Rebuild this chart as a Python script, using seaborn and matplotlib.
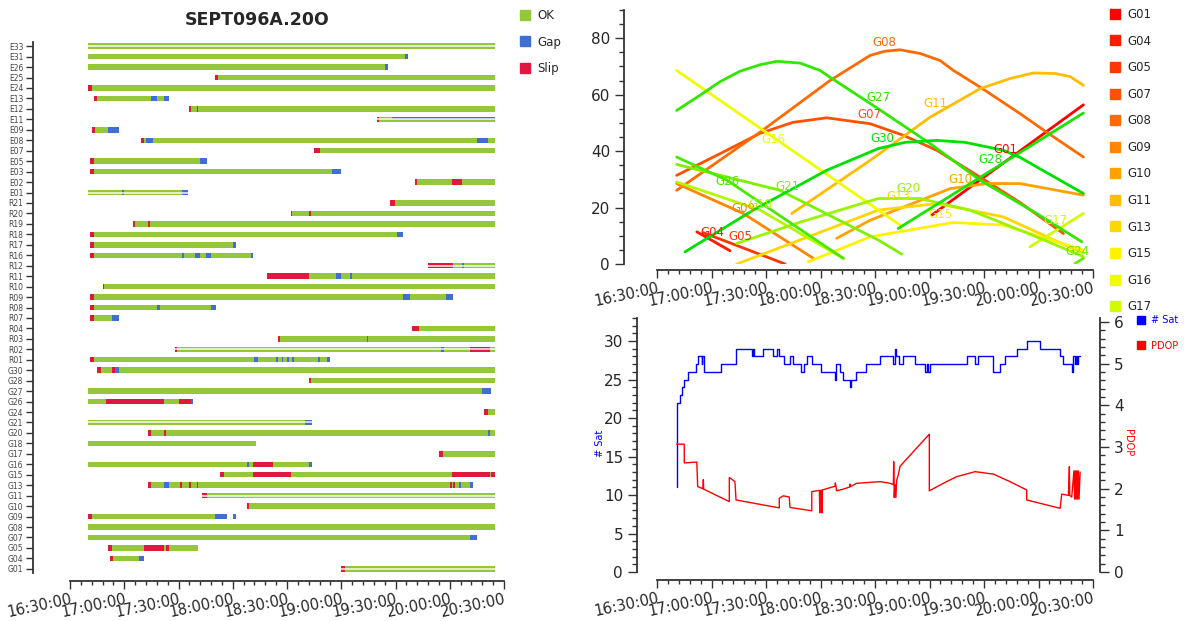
import colorsys
import numpy as np
import pandas as pd
import matplotlib
matplotlib.use("Agg")
import matplotlib.pyplot as plt
from matplotlib.lines import Line2D
from matplotlib.ticker import MultipleLocator, FixedLocator
import seaborn as sns

sns.set_style("ticks")
plt.rcParams['font.family'] = ['DejaVu Sans']

# ---------------- left panel: tracking status per satellite ----------------
sats = ["E33", "E31", "E26", "E25", "E24", "E13", "E12", "E11", "E09", "E08", "E07",
        "E05", "E03", "E02", "E01", "R21", "R20", "R19", "R18", "R17", "R16", "R12",
        "R11", "R10", "R09", "R08", "R07", "R04", "R03", "R02", "R01", "G30", "G28",
        "G27", "G26", "G24", "G21", "G20", "G18", "G17", "G16", "G15", "G13", "G11",
        "G10", "G09", "G08", "G07", "G05", "G04", "G01"]

ok_spans = [
    ("E33", "16:40", "20:25"), ("E31", "16:40", "19:37"), ("E26", "16:40", "19:26"),
    ("E25", "17:51", "20:25"), ("E24", "16:41", "20:25"), ("E13", "16:44", "17:25"),
    ("E12", "17:36", "20:25"), ("E11", "19:20", "20:25"), ("E09", "16:43", "16:57"),
    ("E08", "17:10", "20:25"), ("E07", "18:45", "20:25"), ("E05", "16:42", "17:46"),
    ("E03", "16:42", "19:00"), ("E02", "19:41", "20:25"), ("E01", "16:40", "17:35"),
    ("R21", "19:27", "20:25"), ("R20", "18:32", "20:25"), ("R19", "17:05", "20:25"),
    ("R18", "16:42", "19:34"), ("R17", "16:42", "18:02"), ("R16", "16:42", "18:11"),
    ("R12", "19:48", "20:25"), ("R11", "18:19", "20:25"), ("R10", "16:48", "20:25"),
    ("R09", "16:42", "20:02"), ("R08", "16:42", "17:51"), ("R07", "16:42", "16:57"),
    ("R04", "19:40", "20:25"), ("R03", "18:25", "20:25"), ("R02", "17:28", "20:25"),
    ("R01", "16:42", "18:53"), ("G30", "16:46", "20:25"), ("G28", "18:42", "20:25"),
    ("G27", "16:40", "20:23"), ("G26", "16:40", "17:38"), ("G24", "20:19", "20:25"),
    ("G21", "16:40", "18:44"), ("G20", "17:13", "20:25"), ("G18", "16:40", "18:13"),
    ("G17", "19:54", "20:25"), ("G16", "16:40", "18:44"), ("G15", "17:53", "20:25"),
    ("G13", "17:13", "20:13"), ("G11", "17:43", "20:25"), ("G10", "18:08", "20:25"),
    ("G09", "16:40", "17:57"), ("G08", "16:40", "20:25"), ("G07", "16:40", "20:15"),
    ("G05", "16:51", "17:41"), ("G04", "16:52", "17:11"), ("G01", "19:00", "20:25"),
]

gap_spans = [
    ("E31", "19:35", "19:37"), ("E26", "19:24", "19:26"), ("E13", "17:15", "17:18"),
    ("E13", "17:22", "17:25"), ("E09", "16:51", "16:57"), ("E08", "17:12", "17:16"),
    ("E08", "20:15", "20:21"), ("E05", "17:42", "17:46"), ("E03", "18:55", "19:00"),
    ("E01", "16:59", "17:00"), ("E01", "17:32", "17:35"), ("R18", "19:31", "19:34"),
    ("R17", "18:00", "18:02"), ("R16", "17:32", "17:33"), ("R16", "17:39", "17:42"),
    ("R16", "17:45", "17:48"), ("R16", "18:10", "18:11"), ("R12", "20:07", "20:08"),
    ("R11", "18:57", "19:00"), ("R11", "19:05", "19:06"), ("R09", "19:34", "19:38"),
    ("R09", "19:58", "20:02"), ("R08", "17:18", "17:20"), ("R08", "17:48", "17:51"),
    ("R07", "16:53", "16:57"), ("R03", "19:14", "19:15"), ("R02", "19:55", "19:57"),
    ("R01", "18:12", "18:14"), ("R01", "18:24", "18:25"), ("R01", "18:27", "18:28"),
    ("R01", "18:30", "18:31"), ("R01", "18:33", "18:34"), ("R01", "18:47", "18:48"),
    ("R01", "18:52", "18:54"), ("G30", "16:55", "16:57"), ("G27", "20:18", "20:23"),
    ("G26", "17:35", "17:38"), ("G21", "18:40", "18:44"), ("G20", "20:21", "20:22"),
    ("G16", "18:08", "18:09"), ("G16", "18:42", "18:44"), ("G13", "17:22", "17:25"),
    ("G13", "20:05", "20:06"), ("G13", "20:11", "20:13"), ("G09", "17:50", "17:57"),
    ("G09", "18:00", "18:02"), ("G07", "20:11", "20:15"), ("G04", "17:08", "17:11"),
]
upper_gap_spans = [("E11", "19:28", "20:25")]

slip_spans = [
    ("E25", "17:50", "17:52"), ("E24", "16:40", "16:42"), ("E13", "16:43", "16:45"),
    ("E12", "17:36", "17:37"), ("E12", "17:40", "17:41"), ("E11", "19:20", "19:21"),
    ("E09", "16:42", "16:44"), ("E08", "17:09", "17:11"), ("E07", "18:45", "18:48"),
    ("E05", "16:41", "16:43"), ("E03", "16:41", "16:43"), ("E02", "19:41", "19:42"),
    ("E02", "20:01", "20:07"), ("R21", "19:27", "19:30"), ("R20", "18:32", "18:33"),
    ("R20", "18:42", "18:43"), ("R19", "17:05", "17:06"), ("R19", "17:13", "17:14"),
    ("R18", "16:41", "16:43"), ("R17", "16:41", "16:43"), ("R16", "16:41", "16:43"),
    ("R12", "19:48", "20:02"), ("R11", "18:19", "18:42"), ("R10", "16:48", "16:49"),
    ("R09", "16:41", "16:43"), ("R08", "16:41", "16:43"), ("R07", "16:41", "16:43"),
    ("R04", "19:39", "19:43"), ("R03", "18:25", "18:26"), ("R02", "17:28", "17:29"),
    ("R02", "20:11", "20:22"), ("R01", "16:41", "16:43"), ("G30", "16:45", "16:47"),
    ("G30", "16:53", "16:55"), ("G28", "18:42", "18:43"), ("G26", "16:50", "17:22"),
    ("G26", "17:30", "17:37"), ("G24", "20:19", "20:21"), ("G20", "17:13", "17:15"),
    ("G20", "17:22", "17:23"), ("G17", "19:54", "19:56"), ("G16", "18:11", "18:22"),
    ("G15", "17:53", "17:55"), ("G15", "18:11", "18:32"), ("G15", "20:01", "20:22"),
    ("G15", "20:23", "20:25"), ("G13", "17:13", "17:15"), ("G13", "17:31", "17:32"),
    ("G13", "17:36", "17:37"), ("G13", "17:40", "17:41"), ("G13", "20:00", "20:01"),
    ("G13", "20:02", "20:03"), ("G11", "17:43", "17:46"), ("G10", "18:08", "18:09"),
    ("G09", "16:40", "16:42"), ("G05", "16:51", "16:53"), ("G05", "17:11", "17:22"),
    ("G05", "17:23", "17:25"), ("G04", "16:52", "16:54"), ("G01", "19:00", "19:02"),
]
double_rows = ["E33", "E11", "E01", "R12", "R02", "G21", "G11", "G01"]

# ---------------- top right: elevation (minutes after 16:30, degrees) ----------------
gps = ["G01", "G04", "G05", "G07", "G08", "G09", "G10", "G11", "G13", "G15",
       "G16", "G17", "G18", "G20", "G21", "G24", "G26", "G27", "G28", "G30"]
elev_tracks = {
    "G01": [(151.2, 17.3), (234.7, 56.4)],
    "G04": [(21.9, 11.4), (40.2, 4.7)],
    "G05": [(25.5, 11.1), (70.5, 0.0)],
    "G07": [(10.8, 31.4), (32.9, 38.5), (56.7, 46.3), (74.9, 50.2), (93.4, 51.8),
            (117.3, 49.7), (135.6, 45.6), (154.0, 40.3), (177.8, 30.8), (199.8, 21.8),
            (223.7, 10.8)],
    "G08": [(10.8, 26.1), (56.7, 46.7), (95.2, 65.0), (117.3, 73.9), (125.5, 75.4),
            (133.8, 75.9), (144.8, 74.6), (155.8, 72.1), (163.1, 68.6), (177.8, 62.7),
            (199.8, 53.3), (214.5, 46.7), (234.7, 37.9)],
    "G09": [(10.8, 28.5), (47.5, 17.9), (86.1, 2.0)],
    "G10": [(98.9, 9.1), (117.3, 15.5), (161.3, 26.7), (181.5, 28.5), (199.8, 28.5),
            (234.7, 24.4)],
    "G11": [(74.2, 17.9), (117.3, 36.7), (150.3, 52.0), (177.8, 62.1), (194.3, 65.7),
            (207.2, 67.7), (219.1, 67.5), (227.4, 66.4), (234.7, 63.3)],
    "G13": [(43.9, 0.0), (78.7, 8.5), (121.8, 19.1), (154.0, 21.4), (190.6, 16.7),
            (234.7, 3.8)],
    "G15": [(83.3, 0.8), (117.3, 9.6), (163.1, 14.7), (190.6, 13.8), (234.7, 4.9)],
    "G16": [(10.8, 68.6), (133.8, 13.8)],
    "G17": [(205.3, 6.1), (234.7, 17.9)],
    "G18": [(10.8, 29.1), (56.7, 19.1), (102.6, 2.0)],
    "G20": [(43.9, 7.3), (78.7, 14.8), (121.8, 23.2), (144.8, 23.2), (172.3, 19.1),
            (209.0, 9.6), (234.7, 2.6)],
    "G21": [(10.8, 35.3), (67.7, 26.1), (121.8, 8.5), (134.7, 3.5)],
    "G24": [(230.1, 0.2), (234.7, 2.0)],
    "G26": [(10.8, 37.9), (38.5, 29.7), (102.6, 2.0)],
    "G27": [(10.8, 54.4), (23.7, 59.8), (34.7, 64.6), (45.7, 68.3), (56.7, 70.6),
            (65.9, 71.8), (78.7, 71.2), (89.7, 68.6), (95.2, 66.2), (121.8, 55.0),
            (150.3, 42.7), (177.8, 29.7), (209.0, 17.9), (233.8, 7.9)],
    "G28": [(132.8, 12.6), (234.7, 53.5)],
    "G30": [(15.4, 4.3), (53.0, 19.1), (93.4, 33.2), (121.8, 40.9), (136.5, 43.1),
            (154.0, 43.8), (169.6, 43.1), (190.6, 40.3), (199.8, 37.8), (209.0, 34.4),
            (234.7, 25.0)],
}
elev_labels = [("G08", 125, 78.4), ("G27", 121.7, 59.0), ("G07", 116.7, 53.0),
               ("G11", 153, 56.9), ("G30", 123.9, 44.5), ("G16", 63.9, 44.2),
               ("G01", 191.6, 40.6), ("G28", 183.3, 37.1), ("G26", 38.5, 29.3),
               ("G21", 71.6, 27.6), ("G10", 166.8, 30.0), ("G20", 138.2, 26.9),
               ("G13", 132.7, 24.0), ("G09", 47.3, 19.8), ("G18", 56.7, 21.2),
               ("G15", 155.8, 17.7), ("G17", 219.1, 15.5), ("G04", 30.3, 11.3),
               ("G05", 45.7, 9.9), ("G24", 231.2, 4.6)]

# ---------------- bottom right: number of satellites and PDOP ----------------
sat_t = [10.8, 11.2, 12.7, 13.9, 15.0, 17.2, 21.5, 22.4, 24.5, 25.0, 26.0, 35.2, 43.5,
         52.1, 52.8, 53.5, 58.2, 64.0, 66.0, 67.3, 70.1, 73.2, 75.0, 79.1, 80.9, 82.7,
         85.5, 90.1, 98.0, 98.5, 100.7, 102.2, 106.2, 106.6, 109.4, 115.1, 122.8, 130.1,
         130.8, 131.6, 133.4, 135.6, 142.0, 147.5, 148.5, 149.3, 150.3, 170.5, 175.1,
         176.9, 185.2, 188.8, 191.6, 198.0, 203.5, 210.8, 221.9, 223.7, 228.5, 229.0,
         229.2, 230.0, 230.6, 231.3, 232.0, 232.9]
sat_n = [11, 22, 23, 24, 25, 26, 27, 28, 27, 28, 26, 27, 29,
         28, 29, 28, 29, 28, 29, 28, 27, 28, 27, 26, 27, 28,
         27, 26, 25, 27, 26, 25, 24, 25, 26, 27, 28, 27,
         29, 28, 27, 28, 27, 26, 27, 26, 27, 28, 27,
         28, 26, 27, 28, 29, 30, 29, 28, 27, 26, 27,
         28, 27, 28, 27, 28, 28]

pdop_t = [10.8, 15.0, 15.0, 21.9, 22.4, 25.3, 25.5, 25.7, 39.8, 39.8, 42.9, 43.5, 67.3,
          67.3, 69.5, 72.8, 73.2, 85.2, 85.2, 89.4, 89.6, 89.8, 90.6, 90.8, 91.0, 98.0,
          98.2, 98.9, 101.7, 106.0, 106.2, 106.5, 109.9, 122.8, 128.3, 130.1, 130.3,
          130.6, 131.0, 131.5, 131.9, 132.8, 133.8, 149.9, 149.9, 157.6, 165.0, 175.1,
          185.2, 194.3, 203.5, 203.5, 221.9, 222.8, 226.5, 227.0, 227.2, 228.3, 229.5,
          229.9, 230.3, 230.7, 231.1, 231.5, 231.9, 232.3, 232.9]
pdop_v = [3.07, 3.07, 2.62, 2.64, 2.05, 2.00, 2.22, 1.99, 1.69, 2.27, 2.17, 1.73, 1.54,
          1.77, 1.83, 1.80, 1.55, 1.47, 1.93, 1.96, 1.42, 1.96, 1.96, 1.42, 1.97, 2.06,
          2.14, 1.95, 1.98, 2.04, 2.11, 2.05, 2.13, 2.17, 2.13, 2.10, 2.65,
          1.79, 2.10, 1.79, 2.20, 2.33, 2.54, 3.31, 1.95, 2.13, 2.29, 2.41,
          2.35, 2.17, 1.97, 1.73, 1.53, 1.87, 1.84, 2.53, 1.84, 1.80, 2.43,
          1.75, 2.43, 1.75, 2.43, 1.75, 2.43, 1.75, 2.40]

C_OK, C_GAP, C_SLIP = "#94c83a", "#3e6fd1", "#e0173f"
AX_COL = "#333333"


def hrs(s):
    h, m = s.split(":")
    return int(h) + int(m) / 60


def from_start(minutes):
    return 16.5 + np.asarray(minutes, dtype=float) / 60


tick_pos = np.arange(16.5, 20.51, 0.5)
tick_lab = ["%02d:%02d:00" % (int(t), round((t % 1) * 60)) for t in tick_pos]
minor_pos = [t for t in np.arange(16.5, 20.501, 0.1) if abs((t * 2) - round(t * 2)) > 1e-6]


def time_axis(ax, offset_pt, fs):
    ax.spines['bottom'].set_bounds(16.5, 20.5)
    ax.spines['bottom'].set_position(('outward', offset_pt))
    ax.set_xticks(tick_pos)
    ax.set_xticklabels(tick_lab, rotation=12, ha='right', rotation_mode='anchor', fontsize=fs)
    ax.xaxis.set_minor_locator(FixedLocator(minor_pos))
    ax.tick_params(axis='x', which='major', length=5.5, width=1, color=AX_COL, pad=2)
    ax.tick_params(axis='x', which='minor', length=3, width=1, color=AX_COL)
    for s in ax.spines.values():
        s.set_color(AX_COL)
        s.set_linewidth(1.3)


def sat_colour(i, n):
    hue = i / (n - 1) / 3.0
    val = 1.0 - 0.12 * max(0.0, (hue * 360 - 60) / 60)
    return colorsys.hsv_to_rgb(hue, 1.0, val)


fig = plt.figure(figsize=(11.84, 6.21), dpi=100)

# ---------------- left panel ----------------
axL = fig.add_axes([33 / 1184, 1 - 573 / 621, 471 / 1184, 531 / 621])
ypos = {s: len(sats) - 1 - i for i, s in enumerate(sats)}
bh = 0.52


def draw_spans(spans, color, dy=0.0, h=bh):
    y = [ypos[s] + dy for s, a, b in spans]
    left = [hrs(a) for s, a, b in spans]
    w = [hrs(b) - hrs(a) for s, a, b in spans]
    axL.barh(y, w, left=left, height=h, color=color, linewidth=0)


draw_spans(ok_spans, C_OK)
draw_spans(gap_spans, C_GAP)
draw_spans(slip_spans, C_SLIP)
draw_spans(upper_gap_spans, C_GAP, dy=0.14, h=0.24)
for s, a, b in ok_spans:
    if s in double_rows:
        axL.hlines(ypos[s], hrs(a), hrs(b), color="white", lw=1.2, alpha=0.85)

axL.set_xlim(16.5 - 37 / 108.5, 20.5)
axL.set_ylim(-0.4, len(sats) - 0.6)
axL.set_yticks([ypos[s] for s in sats])
axL.set_yticklabels(sats, fontsize=5.5, color="#444444")
axL.tick_params(axis='y', length=5, width=1, color=AX_COL, pad=2)
axL.spines['top'].set_visible(False)
axL.spines['right'].set_visible(False)
time_axis(axL, 6, 10.5)

fig.text(257 / 1184, 1 - 20 / 621, "SEPT096A.20O", ha='center', va='center',
         fontsize=12.5, fontweight='bold')

leg_h = [Line2D([], [], marker='s', ls='', color=c, markersize=7) for c in (C_OK, C_GAP, C_SLIP)]
fig.legend(leg_h, ["OK", "Gap", "Slip"], loc='upper left', bbox_to_anchor=(520 / 1184, 1 - 9 / 621),
           frameon=False, fontsize=8.5, labelspacing=1.15, handlelength=0.8,
           handletextpad=0.7, borderaxespad=0, borderpad=0)

# ---------------- top right: elevation ----------------
axE = fig.add_axes([624 / 1184, 1 - 264 / 621, 469 / 1184, 254 / 621])
pal = {s: sat_colour(i, len(gps)) for i, s in enumerate(gps)}
rows = []
for s in gps:
    for k, (m, e) in enumerate(elev_tracks[s]):
        rows.append({"sat": s, "hour": 16.5 + m / 60, "elev": e, "k": k})
elev_df = pd.DataFrame(rows)
sns.lineplot(data=elev_df, x="hour", y="elev", hue="sat", palette=pal, units="sat",
             estimator=None, sort=False, lw=2, legend=False, ax=axE)
for s, m, e in elev_labels:
    axE.text(16.5 + m / 60, e, s, color=pal[s], fontsize=8.5, ha='center', va='center')

axE.set_xlim(16.5 - 33 / 109, 20.5)
axE.set_ylim(0, 90)
axE.set_yticks([0, 20, 40, 60, 80])
axE.yaxis.set_minor_locator(MultipleLocator(5))
axE.tick_params(axis='y', which='major', length=6.5, width=1, color=AX_COL, labelsize=11)
axE.tick_params(axis='y', which='minor', length=3.5, width=1, color=AX_COL)
axE.set_xlabel("")
axE.set_ylabel("")
axE.spines['top'].set_visible(False)
axE.spines['right'].set_visible(False)
time_axis(axE, 4.5, 10.5)

sat_h = [Line2D([], [], marker='s', ls='', color=pal[s], markersize=7) for s in gps[:12]]
fig.legend(sat_h, gps[:12], loc='upper left', bbox_to_anchor=(1110 / 1184, 1 - 8 / 621),
           frameon=False, fontsize=8.5, labelspacing=1.15, handlelength=0.8,
           handletextpad=0.7, borderaxespad=0, borderpad=0)

# ---------------- bottom right: # Sat and PDOP ----------------
axS = fig.add_axes([637 / 1184, 1 - 572 / 621, 463 / 1184, 254 / 621])
axP = axS.twinx()
sns.lineplot(x=from_start(sat_t), y=sat_n, drawstyle='steps-post', color="#0000ff", lw=1,
             estimator=None, sort=False, ax=axS)
sns.lineplot(x=from_start(pdop_t), y=pdop_v, color="#ff0000", lw=1,
             estimator=None, sort=False, ax=axP)

axS.set_xlim(16.5 - 20 / 109, 20.5 + 7 / 109)
axS.set_ylim(0, 33)
axP.set_ylim(0, 6.1)
axS.set_yticks(range(0, 31, 5))
axS.yaxis.set_minor_locator(MultipleLocator(1))
axP.set_yticks(range(0, 7))
axP.yaxis.set_minor_locator(MultipleLocator(0.2))
for a in (axS, axP):
    a.tick_params(axis='y', which='major', length=6.5, width=1, color=AX_COL, labelsize=11)
    a.tick_params(axis='y', which='minor', length=3.5, width=1, color=AX_COL)
    a.set_xlabel("")
    a.set_ylabel("")
axS.spines['top'].set_visible(False)
axS.spines['right'].set_visible(False)
for side in ('top', 'left', 'bottom'):
    axP.spines[side].set_visible(False)
axP.spines['right'].set_color(AX_COL)
axP.spines['right'].set_linewidth(1.3)
time_axis(axS, 6, 10.5)

fig.text(600 / 1184, 1 - 443 / 621, "# Sat", rotation=90, color="#0000ff", fontsize=7,
         ha='center', va='center')
fig.text(1128 / 1184, 1 - 443 / 621, "PDOP", rotation=270, color="#ff0000", fontsize=7,
         ha='center', va='center')
dop_h = [Line2D([], [], marker='s', ls='', color=c, markersize=6) for c in ("#0000ff", "#ff0000")]
leg = fig.legend(dop_h, ["# Sat", "PDOP"], loc='upper left', bbox_to_anchor=(1137 / 1184, 1 - 315 / 621),
                 frameon=False, fontsize=7, labelspacing=1.6, handlelength=0.8,
                 handletextpad=0.6, borderaxespad=0, borderpad=0)
for t, c in zip(leg.get_texts(), ("#0000ff", "#ff0000")):
    t.set_color(c)

fig.savefig("out.png", dpi=100)
